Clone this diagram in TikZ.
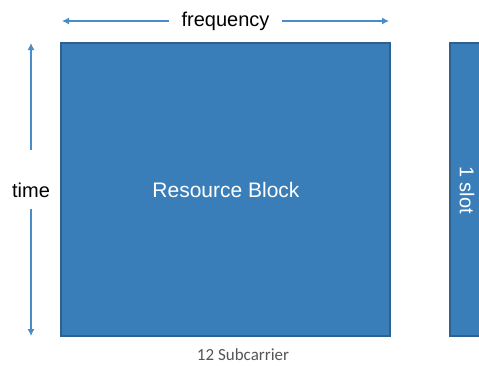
\documentclass[tikz,border=0pt]{standalone}
\usepackage{fontspec}
\setmainfont{Liberation Sans}
\newfontfamily\calib{Carlito}
\usetikzlibrary{arrows.meta}
\definecolor{boxfill}{HTML}{3A7EB9}
\definecolor{boxline}{HTML}{2D6290}
\definecolor{arrowc}{HTML}{4A8CC9}
\definecolor{graytxt}{HTML}{555555}
\begin{document}
\begin{tikzpicture}[x=1pt,y=-1pt,
  blk/.style={draw=boxline,line width=1.6pt,fill=boxfill},
  axarrow/.style={draw=arrowc,line width=1.1pt,-{Latex[length=7pt,width=7pt]}},
  lbl/.style={font=\fontsize{20}{22}\selectfont,text=black,inner sep=0pt}]
\useasboundingbox (0,0) rectangle (479,365);
\clip (0,0) rectangle (479,365);
\draw[blk] (61,43) rectangle (390,336);
\node[lbl,text=white,font=\fontsize{21}{23}\selectfont] (rb) at (226,190) {Resource Block};
\draw[blk] (450,43) rectangle (500,336);
\node[lbl,text=white,rotate=-90] (slot) at (467,190) {1 slot};
\node[lbl] (freq) at (225.5,21) {frequency};
\coordinate (fl) at (62,21);
\coordinate (fr) at (389,21);
\draw[axarrow] ([xshift=-12pt]freq.west) -- (fl);
\draw[axarrow] ([xshift=12pt]freq.east) -- (fr);
\node[lbl] (time) at (31,190) {time};
\coordinate (tt) at (31,43);
\coordinate (tb) at (31,336);
\draw[axarrow] ([yshift=32pt]time.north) -- (tt);
\draw[axarrow] ([yshift=-11pt]time.south) -- (tb);
\node[inner sep=0pt,text=graytxt,font=\calib\fontsize{17}{19}\selectfont] (sub) at (243,355) {12 Subcarrier};
\end{tikzpicture}
\end{document}
